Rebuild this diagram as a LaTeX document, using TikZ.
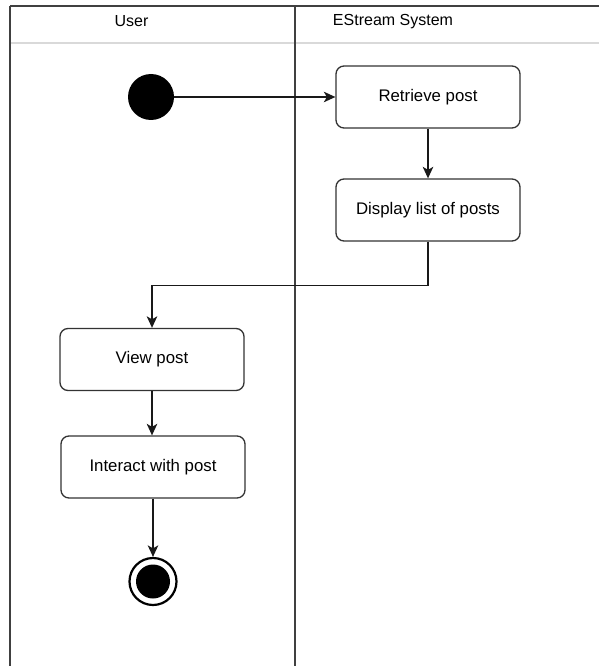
\documentclass[tikz,border=0pt]{standalone}
\usepackage{fontspec}
\setmainfont{Liberation Sans}
\usetikzlibrary{arrows.meta}
\begin{document}
\begin{tikzpicture}[x=1pt, y=-1pt,
  lane/.style={draw=black!75, line width=1.6pt},
  headsep/.style={draw=black!15, line width=2pt},
  lanetitle/.style={font=\fontsize{16}{19}\selectfont, text=black},
  act/.style={draw=black!80, fill=white, rounded corners=8pt, line width=1.3pt,
    minimum width=184pt, minimum height=62pt, inner sep=0pt,
    font=\fontsize{16.8}{20}\selectfont},
  flow/.style={draw=black!90, line width=1.4pt,
    -{Stealth[length=11.5pt, width=10.5pt, inset=3pt]}},
  initial/.style={circle, fill=black, minimum size=46pt, inner sep=0pt},
  finalring/.style={circle, draw=black, line width=2.2pt, fill=white, minimum size=47pt, inner sep=0pt},
  finaldot/.style={circle, fill=black, minimum size=34pt, inner sep=0pt}]
  \useasboundingbox (0,0) rectangle (599,666);
  \fill[white] (0,0) rectangle (599,666);

  % swimlane frame
  \draw[headsep] (10,43) -- (599,43);
  \draw[lane] (10,6) -- (599,6);
  \draw[lane] (10,6) -- (10,666);
  \draw[lane] (295,6) -- (295,666);
  \node[lanetitle] (userlane) at (131.5,21.5) {User};
  \node[lanetitle] (syslane) at (393,21.5) {EStream System};

  % activities
  \node[initial] (start) at (151,97) {};
  \node[act] (retrieve) at (428,97) {Retrieve post};
  \node[act] (display) at (428,210) {Display list of posts};
  \node[act] (view) at (152,359.5) {View post};
  \node[act] (interact) at (153,467) {Interact with post};
  \node[finalring] (finish) at (153,581.5) {};
  \node[finaldot] (finishdot) at (finish) {};

  % control flow
  \draw[flow] (start.east) -- (retrieve.west);
  \draw[flow] (retrieve.south) -- (display.north);
  \draw[flow] (display.south) -- ++(0,44) -| (view.north);
  \draw[flow] (view.south) -- (view.south |- interact.north);
  \draw[flow] (interact.south) -- (finish.north);
\end{tikzpicture}
\end{document}
